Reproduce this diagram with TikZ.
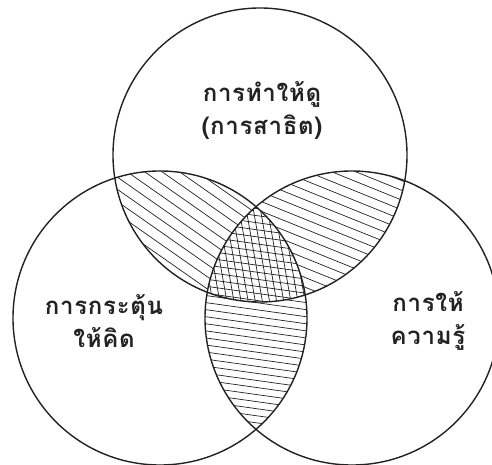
\documentclass[tikz,border=0pt]{standalone}
\usepackage{fontspec}
\newfontfamily\thaifont[Script=Thai,LetterSpace=3]{Loma}
\usepackage{xcolor}
\definecolor{ink}{HTML}{222222}
\tikzset{
  ring/.style={draw=ink,line width=1.4pt},
  hatch/.style={draw=ink,line width=0.7pt},
  label/.style={font=\thaifont\bfseries\fontsize{24}{33}\selectfont,text=ink,align=center,inner sep=0pt},
}
% family of parallel lines round a point: centre, angle, gap, count
\newcommand{\hatchlines}[4]{%
  \begin{scope}[shift={(#1)},rotate=#2]
    \foreach \k in {-#4,...,#4} {\draw[hatch] (-220,\k*#3) -- (220,\k*#3);}
  \end{scope}}

\begin{document}
\begin{tikzpicture}[x=1pt,y=1pt]
\useasboundingbox (0,0) rectangle (492,465);
\clip (0,0) rectangle (492,465);

% Circle centres
\coordinate (show) at (260,310);
\coordinate (think) at (160,147);
\coordinate (know) at (352,147);

% Pairwise overlaps
\begin{scope}
  \clip (show) circle (147);
  \clip (think) circle (147);
  \hatchlines{200,230}{-35}{10}{20}
\end{scope}
\begin{scope}
  \clip (show) circle (147);
  \clip (know) circle (147);
  \hatchlines{320,230}{-22}{9}{22}
\end{scope}
\begin{scope}
  \clip (think) circle (147);
  \clip (know) circle (147);
  \hatchlines{256,120}{-8}{7}{25}
\end{scope}

% Centre: all three
\begin{scope}
  \clip (show) circle (147);
  \clip (think) circle (147);
  \clip (know) circle (147);
  \fill[white] (150,100) rectangle (360,300);
  \hatchlines{256,200}{-8}{7}{15}
  \hatchlines{256,200}{-80}{7}{15}
\end{scope}

% Rings
\foreach \c in {show,think,know} {\draw[ring] (\c) circle (147);}

% Labels
\node[label] (showtxt) at (262,354) {การทำให้ดู\\(การสาธิต)};
\node[label] (thinktxt) at (104,144) {การกระตุ้น\\ให้คิด};
\node[label] (knowtxt) at (428,144) {การให้\\ความรู้};

\end{tikzpicture}
\end{document}
